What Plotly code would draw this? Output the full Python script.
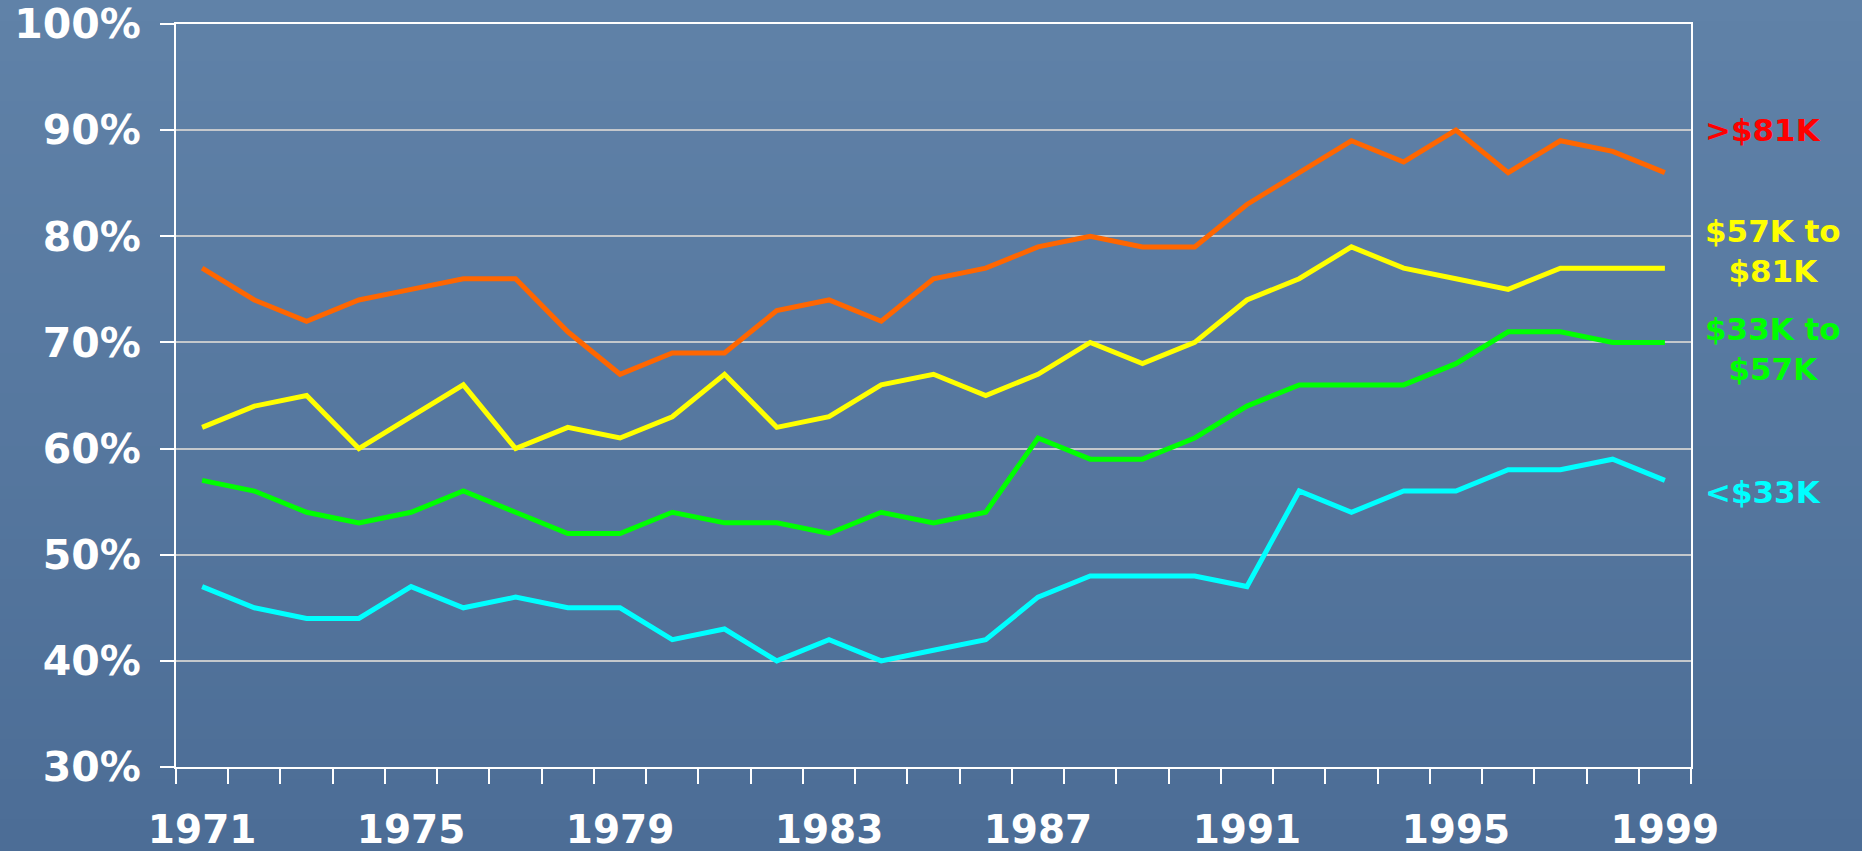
import base64, struct, zlib
import plotly.graph_objects as go

years = list(range(1971, 2000))
over_81k = [77, 74, 72, 74, 75, 76, 76, 71, 67, 69, 69, 73, 74, 72, 76, 77, 79, 80, 79, 79, 83, 86, 89, 87, 90, 86, 89, 88, 86]
k57_81 = [62, 64, 65, 60, 63, 66, 60, 62, 61, 63, 67, 62, 63, 66, 67, 65, 67, 70, 68, 70, 74, 76, 79, 77, 76, 75, 77, 77, 77]
k33_57 = [57, 56, 54, 53, 54, 56, 54, 52, 52, 54, 53, 53, 52, 54, 53, 54, 61, 59, 59, 61, 64, 66, 66, 66, 68, 71, 71, 70, 70]
under_33k = [47, 45, 44, 44, 47, 45, 46, 45, 45, 42, 43, 40, 42, 40, 41, 42, 46, 48, 48, 48, 47, 56, 54, 56, 56, 58, 58, 59, 57]
x_ticks = [1971, 1975, 1979, 1983, 1987, 1991, 1995, 1999]
y_ticks = [30, 40, 50, 60, 70, 80, 90, 100]
y_tick_labels = ["30%", "40%", "50%", "60%", "70%", "80%", "90%", "100%"]

series_names = [">$81K", "$57K to<br>$81K", "$33K to<br>$57K", "<$33K"]
series_vals = [over_81k, k57_81, k33_57, under_33k]
line_colors = ["#ff6600", "#ffff00", "#00ff00", "#00ffff"]
label_colors = ["#ff0000", "#ffff00", "#00ff00", "#00ffff"]
label_y = [90.0, 78.6, 69.4, 55.9]

# background gradient image (decoration only)
def gradient_png(w, h, top, bottom):
    rows = b""
    for j in range(h):
        t = j / (h - 1)
        c = bytes(int(round(top[k] + (bottom[k] - top[k]) * t)) for k in range(3))
        rows += b"\x00" + c * w
    def chunk(tag, data):
        return struct.pack(">I", len(data)) + tag + data + struct.pack(">I", zlib.crc32(tag + data) & 0xffffffff)
    png = b"\x89PNG\r\n\x1a\n" + chunk(b"IHDR", struct.pack(">IIBBBBB", w, h, 8, 2, 0, 0, 0))
    png += chunk(b"IDAT", zlib.compress(rows)) + chunk(b"IEND", b"")
    return "data:image/png;base64," + base64.b64encode(png).decode()

bg = gradient_png(4, 64, (96, 130, 168), (76, 109, 150))

W, H = 1862, 851
L, R, T, B = 176, 171, 24, 84
pw, ph = W - L - R, H - T - B

fig = go.Figure()
for name, vals, col in zip(series_names, series_vals, line_colors):
    fig.add_trace(go.Scatter(x=years, y=vals, mode="lines", name=name,
                             line=dict(color=col, width=5), showlegend=False))

for name, yv, col in zip(series_names, label_y, label_colors):
    fig.add_annotation(x=(1703 - L) / pw, xref="paper", y=yv, yref="y",
                       text=name, showarrow=False, xanchor="left", yanchor="middle",
                       align="center",
                       font=dict(family="DejaVu Sans", size=31, color=col, weight="bold"))

fig.add_layout_image(dict(source=bg, xref="paper", yref="paper",
                          x=-L / pw, y=1 + T / ph, sizex=W / pw, sizey=H / ph,
                          sizing="stretch", layer="below", xanchor="left", yanchor="top"))

fig.update_layout(
    width=W, height=H,
    margin=dict(l=L, r=R, t=T, b=B, autoexpand=False),
    paper_bgcolor="#5878a0",
    plot_bgcolor="rgba(0,0,0,0)",
    xaxis=dict(range=[1970.5, 1999.5], tickvals=x_ticks, ticktext=[str(v) for v in x_ticks],
               showgrid=False, zeroline=False, showline=True, linecolor="white", linewidth=2,
               mirror=True, ticks="", ticklabelstandoff=27, automargin=False,
               minor=dict(tickvals=[y + 0.5 for y in range(1970, 2000)], ticks="outside",
                          ticklen=15, tickwidth=2, tickcolor="white", showgrid=False),
               tickfont=dict(family="DejaVu Sans", size=39, color="white", weight="bold")),
    yaxis=dict(range=[30, 100], tickvals=y_ticks, ticktext=y_tick_labels,
               showgrid=True, gridcolor="#c4c8cc", gridwidth=1.5, zeroline=False,
               showline=True, linecolor="white", linewidth=2, mirror=True,
               ticks="outside", ticklen=14, tickwidth=2, tickcolor="white",
               ticklabelstandoff=11, automargin=False,
               tickfont=dict(family="DejaVu Sans", size=41, color="white", weight="bold")),
)

fig.write_html("out.html", config={"displayModeBar": False},
               post_script="document.body.style.margin='0';document.body.style.overflow='hidden';document.body.style.background='#5878a0';")
